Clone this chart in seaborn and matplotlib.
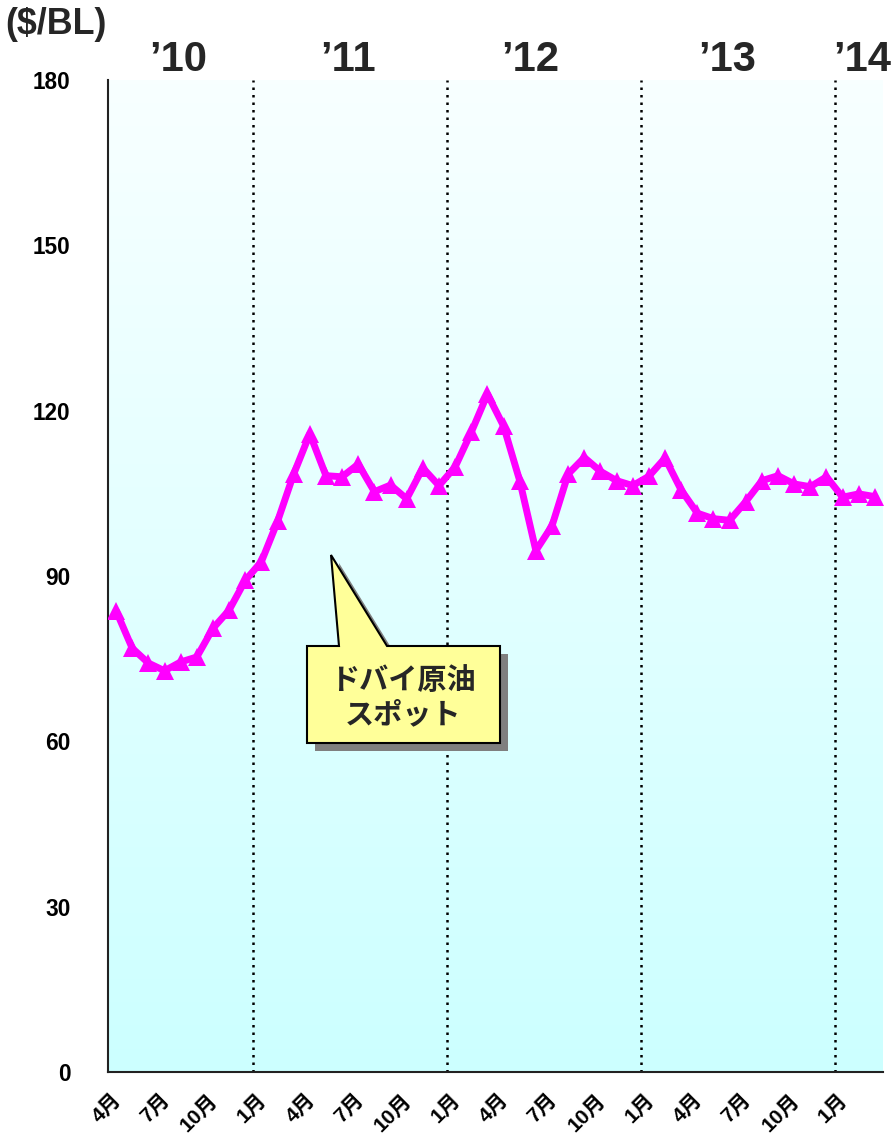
import numpy as np
import pandas as pd
import matplotlib
matplotlib.use("Agg")
import matplotlib.pyplot as plt
import matplotlib.transforms as mtransforms
from matplotlib import font_manager
from matplotlib.patches import Polygon
import seaborn as sns

# ---------------- data ----------------
months = (["4月", "5月", "6月", "7月", "8月", "9月", "10月", "11月", "12月"]
          + ["1月", "2月", "3月", "4月", "5月", "6月", "7月", "8月", "9月", "10月", "11月", "12月"] * 3
          + ["1月", "2月", "3月"])
dubai_spot = [83.7, 76.9, 74.2, 72.8, 74.4, 75.3, 80.5, 83.8, 89.2,
              92.6, 99.9, 108.5, 115.8, 108.2, 108.0, 110.3, 105.3, 106.5, 104.0, 109.6, 106.4,
              109.8, 116.1, 123.0, 117.2, 107.3, 94.6, 99.1, 108.5, 111.5, 109.0, 107.3, 106.4,
              108.1, 111.4, 105.6, 101.4, 100.4, 100.1, 103.5, 107.3, 108.2, 106.7, 106.2, 108.0,
              104.3, 104.9, 104.4]
year_labels = ["’10", "’11", "’12", "’13", "’14"]
y_ticks = [0, 30, 60, 90, 120, 150, 180]
unit_label = "($/BL)"
callout_text = "ドバイ原油\nスポット"

df = pd.DataFrame({"idx": np.arange(len(dubai_spot)), "month": months, "price": dubai_spot})

# ---------------- fonts ----------------
def has_font(name):
    try:
        font_manager.findfont(font_manager.FontProperties(family=name), fallback_to_default=False)
        return True
    except Exception:
        return False

narrow_ok = has_font("Liberation Sans Narrow")
narrow = "Liberation Sans Narrow" if narrow_ok else "Liberation Sans"
k = 1.0 if narrow_ok else 0.86   # shrink wide fallback to match condensed widths
cjk = "Noto Sans CJK JP"

sns.set_theme(style="white")
plt.rcParams["font.family"] = [narrow, cjk, "DejaVu Sans"]

W, H = 894, 1134
fig = plt.figure(figsize=(W / 100, H / 100), dpi=100)
L, R, T, B = 108, 883, 80, 1072
ax = fig.add_axes([L / W, 1 - B / H, (R - L) / W, (B - T) / H])

# pixel -> figure transform for annotations
pix = mtransforms.Affine2D().scale(1 / W, -1 / H).translate(0, 1) + fig.transFigure

n = len(dubai_spot)
ax.set_xlim(-0.5, n - 0.5)
ax.set_ylim(0, 180)

# gradient background
grad = np.linspace(0, 1, 256).reshape(-1, 1)
top_c = np.array([0xF8, 0xFF, 0xFF]) / 255
bot_c = np.array([0xCC, 0xFF, 0xFF]) / 255
img = top_c[None, None, :] * (1 - grad[:, :, None]) + bot_c[None, None, :] * grad[:, :, None]
ax.imshow(img, extent=[-0.5, n - 0.5, 0, 180], aspect="auto", origin="upper", zorder=0)

# year separators (dotted)
for i in range(1, n):
    if months[i] == "1月":
        ax.axvline(i - 0.5, color="black", linestyle=(0, (1, 2)), linewidth=1.8, zorder=1)

sns.lineplot(data=df, x="idx", y="price", ax=ax, color="#FF00FF", linewidth=5,
             marker="^", markersize=13, markeredgewidth=0, zorder=3)

ax.set_xlabel("")
ax.set_ylabel("")
ax.set_yticks(y_ticks)
ax.set_yticklabels([str(v) for v in y_ticks], fontsize=19 * k, fontweight="bold", family=[narrow])
tick_pos = list(range(0, n, 3))
ax.set_xticks(tick_pos)
ax.set_xticklabels([months[i] for i in tick_pos], rotation=45, rotation_mode="anchor",
                   ha="right", va="center", fontsize=15, fontweight="bold",
                   family=[narrow, cjk])
ax.tick_params(axis="y", length=0, pad=27, colors="black")
ax.tick_params(axis="x", length=0, pad=18, colors="black")
for lab in ax.get_xticklabels():
    lab.set_transform(lab.get_transform() + mtransforms.ScaledTranslation(2 / 100, 0, fig.dpi_scale_trans))

for s in ["top", "right"]:
    ax.spines[s].set_visible(False)
for s in ["left", "bottom"]:
    ax.spines[s].set_color("#222222")
    ax.spines[s].set_linewidth(1.5)
ax.grid(False)

# year labels above plot
year_x = [178, 348, 530, 727, 862]
for lbl, x in zip(year_labels, year_x):
    fig.text(x, 60, lbl, transform=pix, ha="center", va="center", fontsize=35 * k,
             fontweight="bold", family=[narrow])
fig.text(56, 24, unit_label, transform=pix, ha="center", va="center", fontsize=30 * k,
         fontweight="bold", family=[narrow])

# callout
shape = np.array([[307, 743], [307, 646], [339, 646], [331, 555], [387, 646],
                  [500, 646], [500, 743]], dtype=float)
shadow = Polygon(shape + np.array([8, 8]), closed=True, transform=pix, facecolor="#7F7F7F",
                 edgecolor="none", zorder=5)
box = Polygon(shape, closed=True, transform=pix, facecolor="#FFFF99", edgecolor="black",
              linewidth=1.5, zorder=6)
fig.add_artist(shadow)
fig.add_artist(box)
fig.text(403, 697, callout_text, transform=pix, ha="center", va="center", fontsize=21,
         fontweight="bold", family=[cjk], linespacing=1.2, zorder=7)

fig.savefig("out.png", dpi=100, facecolor="white")
